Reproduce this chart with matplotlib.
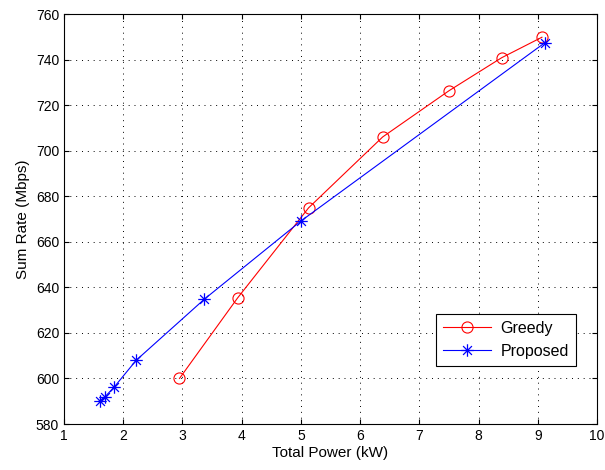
import matplotlib
matplotlib.use("Agg")
import matplotlib.pyplot as plt
from matplotlib.path import Path

plt.rcParams["font.family"] = ["Liberation Sans", "DejaVu Sans"]

# data
greedy_power = [2.95, 3.93, 5.13, 6.38, 7.50, 8.39, 9.07]
greedy_rate = [600.0, 635.3, 674.9, 706.0, 726.3, 740.8, 749.8]
proposed_power = [1.60, 1.69, 1.85, 2.22, 3.37, 5.00, 9.12]
proposed_rate = [590.2, 591.9, 596.3, 608.0, 634.8, 669.1, 747.4]

# matlab-like asterisk: a + and an x on top of each other
d = 0.707
star = Path(
    [(-1, 0), (1, 0), (0, -1), (0, 1), (-d, -d), (d, d), (-d, d), (d, -d)],
    [Path.MOVETO, Path.LINETO] * 4,
)

fig = plt.figure(figsize=(6.05, 4.70), dpi=100)
ax = fig.add_axes([64 / 605, 1 - 424 / 470, (597 - 64) / 605, (424 - 14) / 470])

ax.plot(greedy_power, greedy_rate, color="red", lw=0.8, marker="o",
        ms=8, mfc="none", mec="red", mew=0.8, label="Greedy")
ax.plot(proposed_power, proposed_rate, color="blue", lw=0.8, marker=star,
        ms=9, mfc="none", mec="blue", mew=0.9, label="Proposed")

ax.set_xlim(1, 10)
ax.set_ylim(580, 760)
ax.set_xticks(range(1, 11))
ax.set_yticks(range(580, 761, 20))
ax.grid(True, color="black", linestyle=(0, (1, 5)), linewidth=0.7)
ax.tick_params(direction="in", labelsize=10, top=True, right=True)
ax.set_xlabel("Total Power (kW)", fontsize=11, labelpad=2)
ax.set_ylabel("Sum Rate (Mbps)", fontsize=11, labelpad=4)

leg = ax.legend(loc="lower right", bbox_to_anchor=(0.961, 0.141), borderaxespad=0,
                fontsize=11.5, fancybox=False, edgecolor="black", framealpha=1,
                handlelength=3.0, handletextpad=0.6, borderpad=0.45,
                labelspacing=0.5)
leg.get_frame().set_linewidth(0.8)

fig.savefig("out.png", dpi=100)
